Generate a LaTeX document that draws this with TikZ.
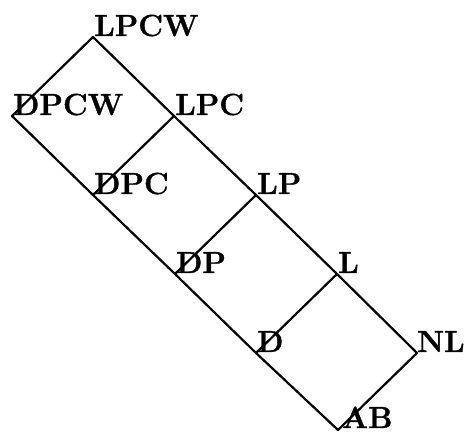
\documentclass[tikz,border=0pt]{standalone}
\usepackage{fontspec}
\newfontfamily\labfont[FakeBold=1]{Latin Modern Roman}
\begin{document}
\begin{tikzpicture}[x=1pt,y=1pt,
  edge/.style={line width=2.2pt,line cap=round,line join=round},
  lab/.style={anchor=base west,inner sep=0pt,xshift=1pt,yshift=1pt,
    font=\labfont\fontsize{30.5}{31}\selectfont\bfseries}]
\useasboundingbox (0,0) rectangle (466,433);
% left chain
\coordinate (DPCW) at (12,317);
\coordinate (DPC) at (93,238);
\coordinate (DP) at (175,159);
\coordinate (D) at (256,80);
\coordinate (AB) at (338,3);
% right chain
\coordinate (LPCW) at (93,396);
\coordinate (LPC) at (174,317);
\coordinate (LP) at (256,238);
\coordinate (L) at (337,159);
\coordinate (NL) at (417,80);
% edges
\draw[edge] (DPCW) -- (DPC) -- (DP) -- (D) -- (AB);
\draw[edge] (LPCW) -- (LPC) -- (LP) -- (L) -- (NL);
\draw[edge] (LPCW) -- (DPCW);
\draw[edge] (LPC) -- (DPC);
\draw[edge] (LP) -- (DP);
\draw[edge] (L) -- (D);
\draw[edge] (NL) -- (AB);
% labels
\node[lab] (tLPCW) at (LPCW) {LPCW};
\node[lab] (tDPCW) at (DPCW) {DPCW};
\node[lab] (tLPC) at (LPC) {LPC};
\node[lab] (tDPC) at (DPC) {DPC};
\node[lab] (tLP) at (LP) {LP};
\node[lab] (tDP) at (DP) {DP};
\node[lab] (tL) at (L) {L};
\node[lab] (tD) at (D) {D};
\node[lab,xshift=-1pt] (tNL) at (NL) {NL};
\node[lab,xshift=3pt,yshift=1pt] (tAB) at (AB) {AB};
\end{tikzpicture}
\end{document}
